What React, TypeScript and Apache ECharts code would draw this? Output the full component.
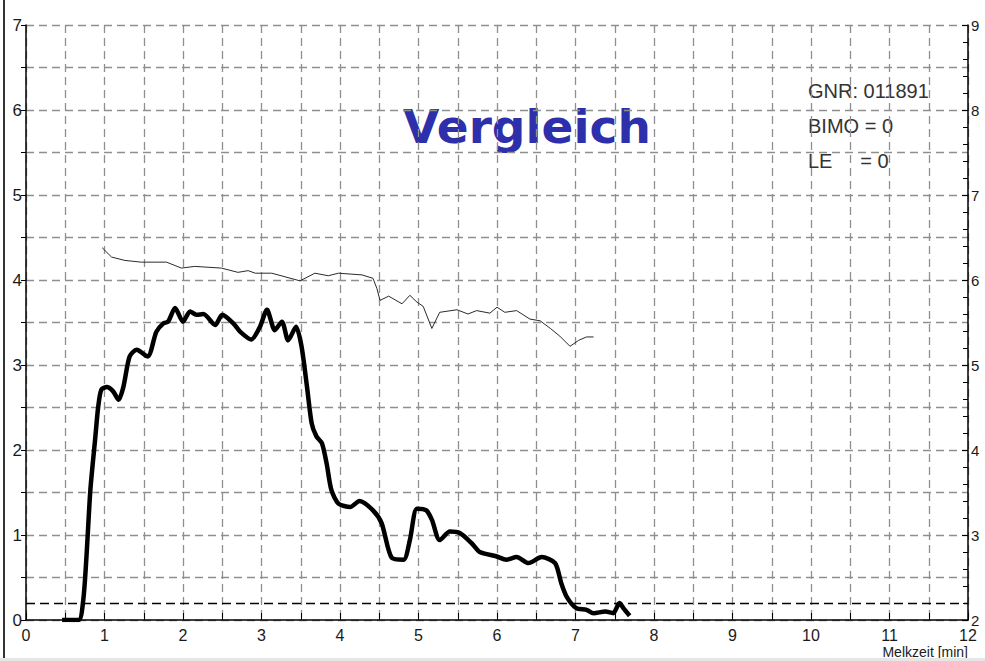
import React, { useEffect, useRef } from "react";
import * as echarts from "echarts";

// Milk flow (left axis, kg/min) - thick line
const flowTime = [0.46, 0.67, 0.73, 0.77, 0.82, 0.88, 0.92, 0.96, 1.03, 1.11, 1.18, 1.24, 1.32, 1.41, 1.55, 1.66, 1.75, 1.81, 1.9, 2.0, 2.09, 2.17, 2.26, 2.41, 2.5, 2.64, 2.73, 2.87, 2.98, 3.07, 3.17, 3.26, 3.34, 3.44, 3.51, 3.58, 3.64, 3.7, 3.77, 3.83, 3.89, 3.98, 4.13, 4.25, 4.42, 4.53, 4.66, 4.81, 4.89, 4.98, 5.1, 5.17, 5.27, 5.4, 5.53, 5.68, 5.78, 5.99, 6.12, 6.25, 6.4, 6.57, 6.74, 6.82, 6.89, 7.01, 7.14, 7.23, 7.38, 7.48, 7.56, 7.61, 7.69];
const flowValues = [0, 0, 0.24, 0.74, 1.53, 2.12, 2.51, 2.71, 2.74, 2.69, 2.59, 2.74, 3.1, 3.18, 3.1, 3.39, 3.49, 3.51, 3.67, 3.51, 3.63, 3.59, 3.6, 3.47, 3.59, 3.49, 3.39, 3.3, 3.45, 3.65, 3.41, 3.51, 3.29, 3.45, 3.22, 2.74, 2.31, 2.16, 2.08, 1.84, 1.53, 1.37, 1.33, 1.4, 1.29, 1.14, 0.73, 0.71, 0.94, 1.31, 1.29, 1.18, 0.94, 1.04, 1.02, 0.9, 0.8, 0.75, 0.71, 0.74, 0.67, 0.74, 0.67, 0.43, 0.27, 0.14, 0.12, 0.08, 0.1, 0.08, 0.2, 0.14, 0.05];

// Comparison line (right axis) - thin line
const condTime = [0.97, 1.09, 1.26, 1.47, 1.79, 1.98, 2.15, 2.49, 2.7, 2.83, 2.92, 3.13, 3.49, 3.68, 3.85, 3.98, 4.28, 4.42, 4.47, 4.51, 4.62, 4.79, 4.89, 4.98, 5.06, 5.17, 5.27, 5.49, 5.63, 5.74, 5.91, 6.0, 6.1, 6.25, 6.42, 6.55, 6.68, 6.8, 6.93, 7.04, 7.14, 7.23];
const condValues = [6.38, 6.27, 6.23, 6.21, 6.21, 6.14, 6.16, 6.14, 6.09, 6.11, 6.08, 6.08, 5.99, 6.08, 6.05, 6.08, 6.06, 6.02, 5.9, 5.76, 5.81, 5.72, 5.82, 5.74, 5.69, 5.43, 5.62, 5.65, 5.6, 5.64, 5.61, 5.68, 5.62, 5.64, 5.54, 5.52, 5.43, 5.34, 5.22, 5.29, 5.33, 5.33];

const thresholdValue = 0.2;
const infoLines = ["GNR: 011891", "BIMO = 0", "LE     = 0"];
const titleText = "Vergleich";
const xAxisName = "Melkzeit [min]";

export default function App() {
  const ref = useRef<HTMLDivElement>(null);
  useEffect(() => {
    if (!ref.current) return;
    const chart = echarts.init(ref.current, undefined, { renderer: "svg" });
    const font = "'Liberation Sans', Arial, sans-serif";
    const gridDash = { type: [8, 5] as number[], color: "#8f8f8f", width: 1.3 };
    chart.setOption({
      animation: false,
      backgroundColor: "#ffffff",
      grid: { left: 26, right: 17, top: 25, bottom: 41, containLabel: false },
      xAxis: {
        type: "value",
        min: 0,
        max: 12,
        interval: 0.5,
        axisLine: { show: true, lineStyle: { color: "#000", width: 1.5 } },
        axisTick: { show: true, inside: true, length: 7, lineStyle: { color: "#000" } },
        axisLabel: {
          margin: 7,
          fontSize: 16,
          fontFamily: font,
          color: "#1a1a1a",
          formatter: (v: number) => (Number.isInteger(v) ? String(v) : ""),
        },
        splitLine: { show: true, lineStyle: gridDash },
      },
      yAxis: [
        {
          type: "value",
          min: 0,
          max: 7,
          interval: 0.5,
          position: "left",
          axisLine: { show: true, lineStyle: { color: "#000", width: 1.5 } },
          axisTick: { show: true, inside: false, length: 5, lineStyle: { color: "#000" } },
          axisLabel: {
            margin: 4,
            fontSize: 17,
            fontFamily: font,
            color: "#1a1a1a",
            formatter: (v: number) => (Number.isInteger(v) ? String(v) : ""),
          },
          splitLine: { show: true, lineStyle: gridDash },
        },
        {
          type: "value",
          min: 2,
          max: 9,
          interval: 1,
          position: "right",
          axisLine: { show: true, lineStyle: { color: "#000", width: 1.5 } },
          axisTick: { show: true, inside: true, length: 6, lineStyle: { color: "#000" } },
          minorTick: { show: true, splitNumber: 5, length: 5, lineStyle: { color: "#000" } },
          axisLabel: { margin: 3, fontSize: 15, fontFamily: font, color: "#1a1a1a" },
          splitLine: { show: false },
        },
      ],
      series: [
        {
          type: "line",
          yAxisIndex: 1,
          data: condTime.map((t, i) => [t, condValues[i]]),
          symbol: "none",
          lineStyle: { color: "#2a2a2a", width: 1 },
          z: 3,
        },
        {
          type: "line",
          yAxisIndex: 0,
          data: flowTime.map((t, i) => [t, flowValues[i]]),
          symbol: "none",
          smooth: 0.25,
          lineStyle: { color: "#000", width: 4.5 },
          z: 4,
          markLine: {
            silent: true,
            symbol: ["none", "none"],
            label: { show: false },
            lineStyle: { color: "#000", type: [9, 5], width: 1.3 },
            data: [{ yAxis: thresholdValue }],
          },
        },
      ],
      graphic: [
        {
          type: "text",
          left: 403,
          top: 103,
          style: {
            text: titleText,
            font: "bold 47px 'DejaVu Sans', sans-serif",
            fill: "#2D30AA",
          },
        },
        ...infoLines.map((s, i) => ({
          type: "text",
          left: 808,
          top: 81 + i * 35,
          style: { text: s, font: `20px ${font}`, fill: "#333" },
        })),
        {
          type: "text",
          right: 17,
          top: 645,
          style: { text: xAxisName, font: `14px ${font}`, fill: "#1a1a1a" },
        },
        {
          type: "rect",
          shape: { x: 3, y: 0, width: 2, height: 661 },
          style: { fill: "#333" },
        },
        {
          type: "rect",
          shape: { x: 0, y: 658, width: 985, height: 3 },
          style: { fill: "#e6e6e6" },
        },
      ],
    });
    return () => chart.dispose();
  }, []);
  return (
    <div
      ref={ref}
      style={{ position: "fixed", left: 0, top: 0, width: 985, height: 661 }}
    />
  );
}
